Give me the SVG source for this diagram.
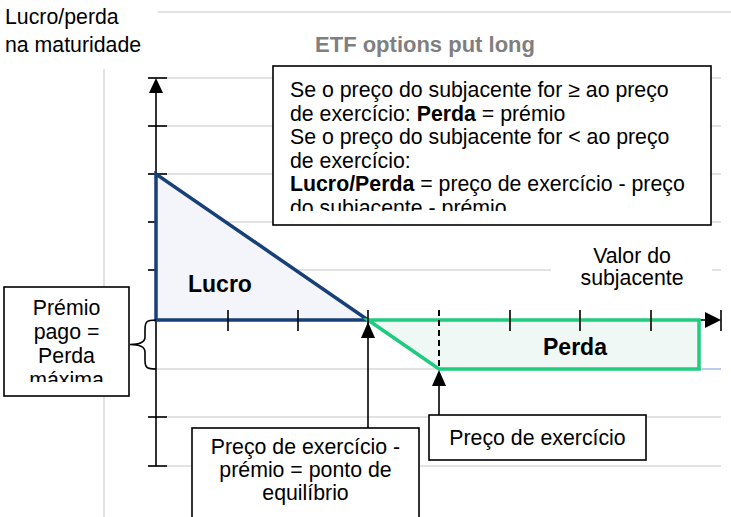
<svg xmlns="http://www.w3.org/2000/svg" width="731" height="517" viewBox="0 0 731 517">
<defs>
<style>
text{font-family:"Liberation Sans",Arial,sans-serif;font-size:21.3px;fill:#000}
.b{font-weight:bold}
.big{font-size:23px}
.grid{stroke:#d9d9d9;stroke-width:1.5;fill:none}
.ax{stroke:#000;stroke-width:1.6;fill:none}
.box{fill:#fff;stroke:#000;stroke-width:1.6}
.c{text-anchor:middle}
</style>
<clipPath id="clipMain"><rect x="273" y="66" width="438" height="145"/></clipPath>
<clipPath id="clipPremio"><rect x="4" y="287" width="125" height="95"/></clipPath>
</defs>

<g id="background">
<line class="grid" x1="158" y1="12" x2="731" y2="12"/>
<line class="grid" x1="104" y1="69" x2="104" y2="517"/>
<line class="grid" x1="148" y1="78" x2="721" y2="78"/>
<line class="grid" x1="148" y1="126" x2="721" y2="126"/>
<line class="grid" x1="148" y1="174" x2="721" y2="174"/>
<line class="grid" x1="148" y1="222" x2="721" y2="222"/>
<line class="grid" x1="148" y1="270" x2="551" y2="270"/>
<line class="grid" x1="712" y1="270" x2="721" y2="270"/>
<line class="grid" x1="148" y1="369" x2="699" y2="369"/>
<line x1="699" y1="369" x2="721" y2="369" stroke="#8ea9db" stroke-width="1.2"/>
<line class="grid" x1="148" y1="417" x2="721" y2="417"/>
<line class="grid" x1="148" y1="466" x2="721" y2="466"/>
</g>

<g id="axes">
<line class="ax" x1="156" y1="88" x2="156" y2="466"/>
<line class="ax" x1="148" y1="78" x2="167" y2="78"/>
<line class="ax" x1="148" y1="126" x2="167" y2="126"/>
<line class="ax" x1="148" y1="174" x2="167" y2="174"/>
<line class="ax" x1="148" y1="222" x2="167" y2="222"/>
<line class="ax" x1="148" y1="270" x2="167" y2="270"/>
<line class="ax" x1="148" y1="417" x2="167" y2="417"/>
<line class="ax" x1="148" y1="466" x2="167" y2="466"/>
<polygon points="156,78 149,93 163,93" fill="#000"/>
<line class="ax" x1="156" y1="320" x2="708" y2="320"/>
<polygon points="721,320 705,312 705,328" fill="#000"/>
<line class="ax" x1="721" y1="310" x2="721" y2="331"/>
</g>

<g id="lucro-area">
<polygon points="156,174 156,320 368,320" fill="#f3f5fa" stroke="#173f78" stroke-width="3.5" stroke-linejoin="miter"/>
<text class="b big" x="188" y="292">Lucro</text>
</g>

<g id="perda-area">
<polygon points="368,320 439,369 699,369 699,320" fill="#eff8f4" stroke="#1fcb7f" stroke-width="3.5"/>
<text class="b big c" x="575" y="355">Perda</text>
</g>

<g id="xticks">
<line class="ax" x1="228" y1="310" x2="228" y2="331"/>
<line class="ax" x1="298" y1="310" x2="298" y2="331"/>
<line class="ax" x1="368" y1="310" x2="368" y2="331"/>
<line class="ax" x1="510" y1="310" x2="510" y2="331"/>
<line class="ax" x1="580" y1="310" x2="580" y2="331"/>
<line class="ax" x1="651" y1="310" x2="651" y2="331"/>
<line x1="439" y1="310" x2="439" y2="369" stroke="#000" stroke-width="2" stroke-dasharray="6,4"/>
</g>

<g id="labels">
<text x="5" y="24">Lucro/perda</text>
<text x="5" y="52">na maturidade</text>
<text class="b c" x="425" y="52" style="fill:#7f7f7f;font-size:22px">ETF options put long</text>
<text class="c" x="632" y="263">Valor do</text>
<text class="c" x="632" y="285">subjacente</text>
</g>

<g id="connectors">
<path class="ax" d="M156,320 C146,320 145,322 145,330 L145,337 C145,342 140,344.5 130,344.5 C140,344.5 145,347 145,352 L145,360 C145,367 146,369 156,369"/>
<line class="ax" x1="368" y1="335" x2="368" y2="428"/>
<polygon points="368,322 361,338 375,338" fill="#000"/>
<line class="ax" x1="439" y1="384" x2="439" y2="415"/>
<polygon points="439,370 432,386 446,386" fill="#000"/>
</g>

<g id="main-box">
<rect class="box" x="273" y="66" width="438" height="159"/>
<g clip-path="url(#clipMain)">
<text x="290" y="97">Se o preço do subjacente for ≥ ao preço</text>
<text x="290" y="120.5">de exercício: <tspan class="b">Perda</tspan> = prémio</text>
<text x="290" y="144">Se o preço do subjacente for &lt; ao preço</text>
<text x="290" y="167.5">de exercício:</text>
<text x="290" y="191"><tspan class="b">Lucro/Perda</tspan> = preço de exercício - preço</text>
<text x="290" y="214.5">do subjacente - prémio</text>
</g>
</g>

<g id="premio-box">
<rect class="box" x="4" y="287" width="125" height="109"/>
<g clip-path="url(#clipPremio)">
<text class="c" x="66.5" y="315">Prémio</text>
<text class="c" x="66.5" y="339">pago =</text>
<text class="c" x="66.5" y="363">Perda</text>
<text class="c" x="66.5" y="387">máxima</text>
</g>
</g>

<g id="breakeven-box">
<rect class="box" x="192" y="428" width="227" height="100"/>
<text class="c" x="305.5" y="454">Preço de exercício -</text>
<text class="c" x="305.5" y="477">prémio = ponto de</text>
<text class="c" x="305.5" y="500">equilíbrio</text>
</g>

<g id="strike-box">
<rect class="box" x="429" y="415" width="217" height="45"/>
<text class="c" x="537.5" y="445">Preço de exercício</text>
</g>
</svg>
